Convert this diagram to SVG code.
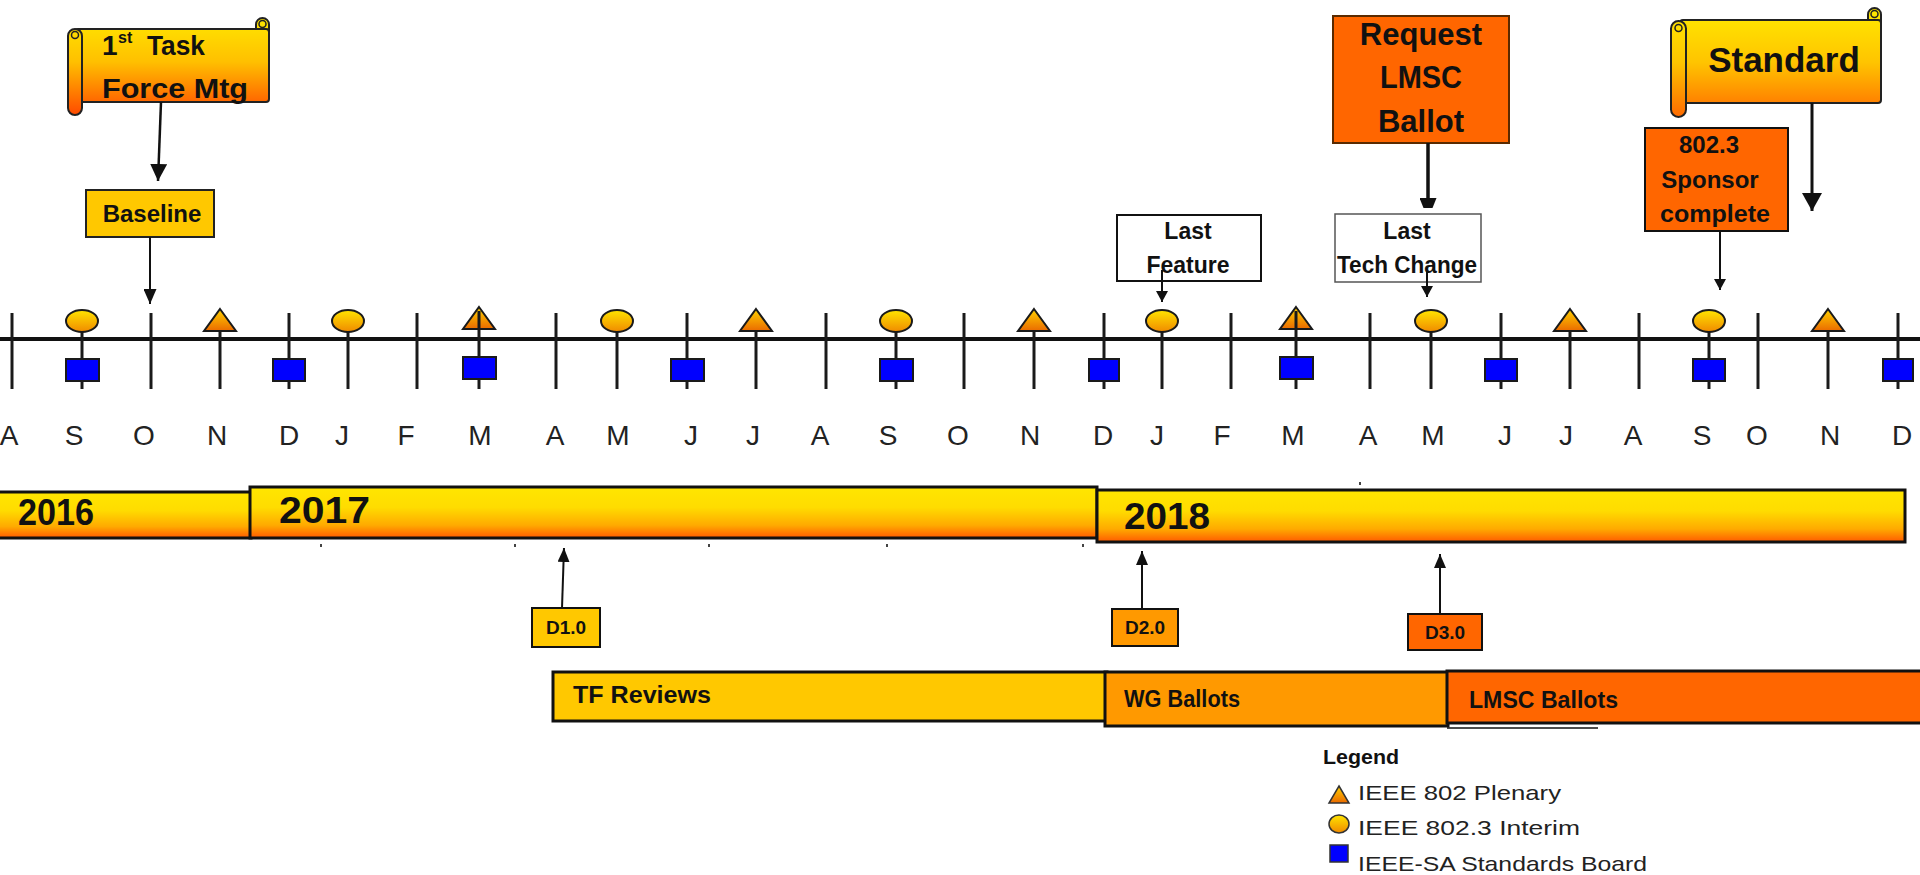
<svg xmlns="http://www.w3.org/2000/svg" width="1920" height="875" viewBox="0 0 1920 875">
<defs>
  <style>
    .lbl{font-family:"Liberation Sans",Arial,sans-serif;font-weight:bold;fill:#111}
    .mid{text-anchor:middle}
    .mon{font-family:"Liberation Sans",Arial,sans-serif;font-size:28px;fill:#222;text-anchor:middle}
    .leg{font-family:"Liberation Sans",Arial,sans-serif;font-size:21px;fill:#222}
    .tick{stroke:#1a1a1a;stroke-width:3}
    .edge{stroke:#111;fill:none}
    .sq{fill:#0000ff;stroke:#1a1a1a;stroke-width:2}
    .circ{fill:url(#gMark);stroke:#1a1a1a;stroke-width:2}
    .tri{fill:url(#gTri);stroke:#1a1a1a;stroke-width:2;stroke-linejoin:miter}
    .bar{fill:url(#gBar);stroke:#111;stroke-width:3}
  </style>
  <linearGradient id="gScroll1" gradientUnits="userSpaceOnUse" x1="0" y1="18" x2="0" y2="115">
    <stop offset="0" stop-color="#ffe600"/><stop offset="0.45" stop-color="#ffc000"/><stop offset="1" stop-color="#ff4a00"/>
  </linearGradient>
  <linearGradient id="gScroll2" gradientUnits="userSpaceOnUse" x1="0" y1="8" x2="0" y2="117">
    <stop offset="0" stop-color="#ffea00"/><stop offset="0.5" stop-color="#ffc400"/><stop offset="1" stop-color="#ff6a00"/>
  </linearGradient>
  <linearGradient id="gBar" x1="0" y1="0" x2="0" y2="1">
    <stop offset="0" stop-color="#ffe600"/><stop offset="0.4" stop-color="#ffdc00"/><stop offset="0.75" stop-color="#ffaa00"/><stop offset="1" stop-color="#ff5a00"/>
  </linearGradient>
  <linearGradient id="gMark" x1="0" y1="0" x2="0" y2="1">
    <stop offset="0" stop-color="#ffe400"/><stop offset="1" stop-color="#f08a00"/>
  </linearGradient>
  <linearGradient id="gTri" x1="0" y1="0" x2="0" y2="1">
    <stop offset="0" stop-color="#ffd200"/><stop offset="1" stop-color="#ea6a00"/>
  </linearGradient>
  <marker id="mBig" viewBox="0 0 17 17" refX="17" refY="8.5" markerWidth="17" markerHeight="17" markerUnits="userSpaceOnUse" orient="auto"><path d="M0,0 L17,8.5 L0,17 z" fill="#111"/></marker>
  <marker id="mMed" viewBox="0 0 15 13" refX="15" refY="6.5" markerWidth="15" markerHeight="13" markerUnits="userSpaceOnUse" orient="auto"><path d="M0,0 L15,6.5 L0,13 z" fill="#111"/></marker>
  <marker id="mStd" viewBox="0 0 18 20" refX="18" refY="10" markerWidth="18" markerHeight="20" markerUnits="userSpaceOnUse" orient="auto"><path d="M0,0 L18,10 L0,20 z" fill="#111"/></marker>
  <marker id="mReq" viewBox="0 0 10 17" refX="10" refY="8.5" markerWidth="10" markerHeight="17" markerUnits="userSpaceOnUse" orient="auto"><path d="M0,0 L10,4 L10,13 L0,17 z" fill="#111"/></marker>
  <marker id="mSmall" viewBox="0 0 11 12" refX="11" refY="6" markerWidth="11" markerHeight="12" markerUnits="userSpaceOnUse" orient="auto"><path d="M0,0 L11,6 L0,12 z" fill="#111"/></marker>
  <marker id="mD" viewBox="0 0 14 12" refX="14" refY="6" markerWidth="14" markerHeight="12" markerUnits="userSpaceOnUse" orient="auto"><path d="M0,0 L14,6 L0,12 z" fill="#111"/></marker>
</defs>

<rect width="1920" height="875" fill="#ffffff"/>

<!-- Timeline axis -->
<g id="timeline">
  <line x1="0" y1="339" x2="1920" y2="339" stroke="#111" stroke-width="4"/>
  <g class="tick">
    <line x1="12" y1="313" x2="12" y2="389"/>
    <line x1="82" y1="313" x2="82" y2="389"/>
    <line x1="151" y1="313" x2="151" y2="389"/>
    <line x1="220" y1="313" x2="220" y2="389"/>
    <line x1="289" y1="313" x2="289" y2="389"/>
    <line x1="348" y1="313" x2="348" y2="389"/>
    <line x1="417" y1="313" x2="417" y2="389"/>
    <line x1="479" y1="313" x2="479" y2="389"/>
    <line x1="556" y1="313" x2="556" y2="389"/>
    <line x1="617" y1="313" x2="617" y2="389"/>
    <line x1="687" y1="313" x2="687" y2="389"/>
    <line x1="756" y1="313" x2="756" y2="389"/>
    <line x1="826" y1="313" x2="826" y2="389"/>
    <line x1="896" y1="313" x2="896" y2="389"/>
    <line x1="964" y1="313" x2="964" y2="389"/>
    <line x1="1034" y1="313" x2="1034" y2="389"/>
    <line x1="1104" y1="313" x2="1104" y2="389"/>
    <line x1="1162" y1="313" x2="1162" y2="389"/>
    <line x1="1231" y1="313" x2="1231" y2="389"/>
    <line x1="1296" y1="313" x2="1296" y2="389"/>
    <line x1="1370" y1="313" x2="1370" y2="389"/>
    <line x1="1431" y1="313" x2="1431" y2="389"/>
    <line x1="1501" y1="313" x2="1501" y2="389"/>
    <line x1="1570" y1="313" x2="1570" y2="389"/>
    <line x1="1639" y1="313" x2="1639" y2="389"/>
    <line x1="1709" y1="313" x2="1709" y2="389"/>
    <line x1="1758" y1="313" x2="1758" y2="389"/>
    <line x1="1828" y1="313" x2="1828" y2="389"/>
    <line x1="1898" y1="313" x2="1898" y2="389"/>
  </g>
</g>

<!-- Meeting markers -->
<g id="interims">
  <ellipse class="circ" cx="82" cy="321" rx="16" ry="11"/>
  <ellipse class="circ" cx="348" cy="321" rx="16" ry="11"/>
  <ellipse class="circ" cx="617" cy="321" rx="16" ry="11"/>
  <ellipse class="circ" cx="896" cy="321" rx="16" ry="11"/>
  <ellipse class="circ" cx="1162" cy="321" rx="16" ry="11"/>
  <ellipse class="circ" cx="1431" cy="321" rx="16" ry="11"/>
  <ellipse class="circ" cx="1709" cy="321" rx="16" ry="11"/>
</g>
<g id="plenaries">
  <path class="tri" d="M220,309 L236,331 L204,331 Z"/>
  <path class="tri" d="M479,307 L495,329 L463,329 Z"/>
  <path class="tri" d="M756,309 L772,331 L740,331 Z"/>
  <path class="tri" d="M1034,309 L1050,331 L1018,331 Z"/>
  <path class="tri" d="M1296,307 L1312,329 L1280,329 Z"/>
  <path class="tri" d="M1570,309 L1586,331 L1554,331 Z"/>
  <path class="tri" d="M1828,309 L1844,331 L1812,331 Z"/>
  <line class="tick" x1="479" y1="311" x2="479" y2="330" stroke-width="2"/>
  <line class="tick" x1="1296" y1="311" x2="1296" y2="330" stroke-width="2"/>
</g>
<g id="sa-board">
  <rect class="sq" x="66" y="359" width="33" height="22"/>
  <rect class="sq" x="273" y="359" width="32" height="22"/>
  <rect class="sq" x="463" y="357" width="33" height="22"/>
  <rect class="sq" x="671" y="359" width="33" height="22"/>
  <rect class="sq" x="880" y="359" width="33" height="22"/>
  <rect class="sq" x="1089" y="359" width="30" height="22"/>
  <rect class="sq" x="1280" y="357" width="33" height="22"/>
  <rect class="sq" x="1485" y="359" width="32" height="22"/>
  <rect class="sq" x="1693" y="359" width="32" height="22"/>
  <rect class="sq" x="1883" y="359" width="30" height="22"/>
</g>

<!-- Month letters -->
<g id="months">
  <text class="mon" x="9" y="445">A</text>
  <text class="mon" x="74" y="445">S</text>
  <text class="mon" x="144" y="445">O</text>
  <text class="mon" x="217" y="445">N</text>
  <text class="mon" x="289" y="445">D</text>
  <text class="mon" x="342" y="445">J</text>
  <text class="mon" x="406" y="445">F</text>
  <text class="mon" x="480" y="445">M</text>
  <text class="mon" x="555" y="445">A</text>
  <text class="mon" x="618" y="445">M</text>
  <text class="mon" x="691" y="445">J</text>
  <text class="mon" x="753" y="445">J</text>
  <text class="mon" x="820" y="445">A</text>
  <text class="mon" x="888" y="445">S</text>
  <text class="mon" x="958" y="445">O</text>
  <text class="mon" x="1030" y="445">N</text>
  <text class="mon" x="1103" y="445">D</text>
  <text class="mon" x="1157" y="445">J</text>
  <text class="mon" x="1222" y="445">F</text>
  <text class="mon" x="1293" y="445">M</text>
  <text class="mon" x="1368" y="445">A</text>
  <text class="mon" x="1433" y="445">M</text>
  <text class="mon" x="1505" y="445">J</text>
  <text class="mon" x="1566" y="445">J</text>
  <text class="mon" x="1633" y="445">A</text>
  <text class="mon" x="1702" y="445">S</text>
  <text class="mon" x="1757" y="445">O</text>
  <text class="mon" x="1830" y="445">N</text>
  <text class="mon" x="1902" y="445">D</text>
</g>

<!-- Year bars -->
<g id="year-2016">
  <rect class="bar" x="-3" y="492" width="254" height="46"/>
  <text class="lbl" x="18" y="525" font-size="36" textLength="76" lengthAdjust="spacingAndGlyphs">2016</text>
</g>
<g id="year-2017">
  <rect class="bar" x="250" y="487" width="847" height="51"/>
  <text class="lbl" x="279" y="523" font-size="37" textLength="91" lengthAdjust="spacingAndGlyphs">2017</text>
</g>
<g id="year-2018">
  <rect class="bar" x="1097" y="490" width="808" height="52"/>
  <text class="lbl" x="1124" y="529" font-size="36" textLength="86" lengthAdjust="spacingAndGlyphs">2018</text>
</g>
<g id="marks" fill="#444">
  <rect x="320" y="544" width="2" height="3"/>
  <rect x="514" y="544" width="2" height="3"/>
  <rect x="708" y="544" width="2" height="3"/>
  <rect x="886" y="544" width="2" height="3"/>
  <rect x="1082" y="544" width="2" height="3"/>
  <rect x="1359" y="482" width="2" height="3"/>
</g>

<!-- Top milestones -->
<g id="task-force-mtg">
  <rect x="256" y="18" width="13" height="24" rx="6.5" fill="url(#gScroll1)" stroke="#222" stroke-width="2"/>
  <rect x="75" y="29" width="194" height="73" rx="3" fill="url(#gScroll1)" stroke="#222" stroke-width="2"/>
  <rect x="68" y="29" width="14" height="86" rx="7" fill="url(#gScroll1)" stroke="#222" stroke-width="2"/>
  <circle cx="262.5" cy="24" r="3.5" fill="none" stroke="#222" stroke-width="1.5"/>
  <circle cx="75" cy="35" r="3.5" fill="none" stroke="#222" stroke-width="1.5"/>
  <text class="lbl" x="102" y="55" font-size="28">1</text>
  <text class="lbl" x="118" y="43" font-size="16">st</text>
  <text class="lbl" x="147" y="55" font-size="28" textLength="58" lengthAdjust="spacingAndGlyphs">Task</text>
  <text class="lbl" x="102" y="98" font-size="28" textLength="146" lengthAdjust="spacingAndGlyphs">Force Mtg</text>
</g>

<g id="baseline">
  <rect x="86" y="190" width="128" height="47" fill="#ffc800" stroke="#222" stroke-width="2"/>
  <text class="lbl mid" x="152" y="222" font-size="24">Baseline</text>
</g>

<g id="request-lmsc-ballot">
  <rect x="1333" y="16" width="176" height="127" fill="#ff6600" stroke="#5a2a00" stroke-width="2"/>
  <text class="lbl mid" x="1421" y="45" font-size="31">Request</text>
  <text class="lbl mid" x="1421" y="88" font-size="31" textLength="82" lengthAdjust="spacingAndGlyphs">LMSC</text>
  <text class="lbl mid" x="1421" y="132" font-size="31">Ballot</text>
</g>

<g id="last-feature">
  <rect x="1117" y="215" width="144" height="66" fill="#ffffff" stroke="#111" stroke-width="2"/>
  <text class="lbl mid" x="1188" y="239" font-size="23">Last</text>
  <text class="lbl mid" x="1188" y="273" font-size="23">Feature</text>
</g>

<g id="last-tech-change">
  <rect x="1335" y="214" width="146" height="68" fill="#ffffff" stroke="#555" stroke-width="1.5"/>
  <text class="lbl mid" x="1407" y="239" font-size="23">Last</text>
  <text class="lbl mid" x="1407" y="273" font-size="23" textLength="140" lengthAdjust="spacingAndGlyphs">Tech Change</text>
</g>

<g id="standard">
  <rect x="1868" y="8" width="13" height="24" rx="6.5" fill="url(#gScroll2)" stroke="#222" stroke-width="2"/>
  <rect x="1680" y="20" width="201" height="83" rx="3" fill="url(#gScroll2)" stroke="#222" stroke-width="2"/>
  <rect x="1671" y="21" width="15" height="96" rx="7.5" fill="url(#gScroll2)" stroke="#222" stroke-width="2"/>
  <circle cx="1874.5" cy="14" r="3.5" fill="none" stroke="#222" stroke-width="1.5"/>
  <circle cx="1678.5" cy="28" r="3.5" fill="none" stroke="#222" stroke-width="1.5"/>
  <text class="lbl mid" x="1784" y="72" font-size="35">Standard</text>
</g>

<g id="sponsor-complete">
  <rect x="1645" y="128" width="143" height="103" fill="#ff6600" stroke="#111" stroke-width="2"/>
  <text class="lbl mid" x="1709" y="153" font-size="24">802.3</text>
  <text class="lbl mid" x="1710" y="188" font-size="24">Sponsor</text>
  <text class="lbl mid" x="1715" y="222" font-size="24" textLength="110" lengthAdjust="spacingAndGlyphs">complete</text>
</g>

<!-- Drafts -->
<g id="d1">
  <rect x="532" y="608" width="68" height="39" fill="#ffc800" stroke="#111" stroke-width="2"/>
  <text class="lbl mid" x="566" y="634" font-size="19">D1.0</text>
</g>
<g id="d2">
  <rect x="1112" y="609" width="66" height="37" fill="#ff9900" stroke="#111" stroke-width="2"/>
  <text class="lbl mid" x="1145" y="634" font-size="19">D2.0</text>
</g>
<g id="d3">
  <rect x="1408" y="614" width="74" height="36" fill="#ff6600" stroke="#111" stroke-width="2"/>
  <text class="lbl mid" x="1445" y="639" font-size="19">D3.0</text>
</g>

<!-- Phases -->
<g id="tf-reviews">
  <rect x="553" y="672" width="554" height="49" fill="#ffc800" stroke="#111" stroke-width="3"/>
  <text class="lbl" x="573" y="703" font-size="23" textLength="138" lengthAdjust="spacingAndGlyphs">TF Reviews</text>
</g>
<g id="wg-ballots">
  <rect x="1105" y="672" width="343" height="54" fill="#ff9900" stroke="#111" stroke-width="3"/>
  <text class="lbl" x="1124" y="707" font-size="23" textLength="116" lengthAdjust="spacingAndGlyphs">WG Ballots</text>
</g>
<g id="lmsc-ballots">
  <rect x="1447" y="671" width="480" height="52" fill="#ff6600" stroke="#111" stroke-width="3"/>
  <text class="lbl" x="1469" y="708" font-size="24" textLength="149" lengthAdjust="spacingAndGlyphs">LMSC Ballots</text>
  <line x1="1447" y1="728" x2="1598" y2="728" stroke="#111" stroke-width="1.5"/>
</g>

<!-- Legend -->
<g id="legend">
  <text class="lbl" x="1323" y="764" font-size="20" textLength="76" lengthAdjust="spacingAndGlyphs">Legend</text>
  <path d="M1339,786 L1349,803 L1329,803 Z" fill="url(#gTri)" stroke="#333" stroke-width="1.5"/>
  <text class="leg" x="1358" y="800" textLength="203" lengthAdjust="spacingAndGlyphs">IEEE 802 Plenary</text>
  <ellipse cx="1339" cy="824" rx="10" ry="9" fill="url(#gMark)" stroke="#333" stroke-width="1.5"/>
  <text class="leg" x="1358" y="835" textLength="222" lengthAdjust="spacingAndGlyphs">IEEE 802.3 Interim</text>
  <rect x="1330" y="845" width="18" height="17" fill="#0000ff" stroke="#333" stroke-width="1.5"/>
  <text class="leg" x="1358" y="871" textLength="289" lengthAdjust="spacingAndGlyphs">IEEE-SA  Standards Board</text>
</g>

<!-- Connectors -->
<g id="connectors" class="edge">
  <line x1="161" y1="102" x2="158" y2="181" stroke-width="2.5" marker-end="url(#mBig)"/>
  <line x1="150" y1="237" x2="150" y2="304" stroke-width="2" marker-end="url(#mMed)"/>
  <line x1="1428" y1="143" x2="1428" y2="208" stroke-width="3.5" marker-end="url(#mReq)"/>
  <line x1="1162" y1="270" x2="1162" y2="302" stroke-width="2" marker-end="url(#mSmall)"/>
  <line x1="1427" y1="270" x2="1427" y2="297" stroke-width="2" marker-end="url(#mSmall)"/>
  <line x1="1812" y1="103" x2="1812" y2="211" stroke-width="3" marker-end="url(#mStd)"/>
  <line x1="1720" y1="231" x2="1720" y2="290" stroke-width="2" marker-end="url(#mSmall)"/>
  <line x1="562" y1="608" x2="564" y2="548" stroke-width="2" marker-end="url(#mD)"/>
  <line x1="1142" y1="609" x2="1142" y2="551" stroke-width="2" marker-end="url(#mD)"/>
  <line x1="1440" y1="614" x2="1440" y2="554" stroke-width="2" marker-end="url(#mD)"/>
</g>
</svg>
